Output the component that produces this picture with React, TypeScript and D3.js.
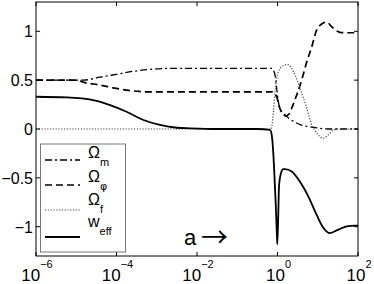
import React from "react";
import * as d3 from "d3";

// log10(a) positions and values
const omegaMLogA = [-6, -5, -4.83, -4.41, -4.0, -3.59, -3.17, -2.75, -2.26, -1, -0.2, -0.14, -0.06, -0.02, 0.02, 0.06, 0.15, 0.35, 0.6, 0.85, 1.0, 1.3, 1.6, 2.0];
const omegaM = [0.5, 0.5, 0.5, 0.53, 0.56, 0.59, 0.61, 0.62, 0.62, 0.62, 0.62, 0.62, 0.55, 0.415, 0.28, 0.21, 0.16, 0.09, 0.04, 0.02, 0.01, 0.0, 0.0, 0.0];

const omegaPhiLogA = [-6, -5, -4.83, -4.41, -4.0, -3.59, -3.17, -2.5, -1, -0.2, -0.14, -0.02, 0.06, 0.12, 0.2, 0.28, 0.35, 0.435, 0.48, 0.6, 0.73, 0.85, 0.97, 1.14, 1.22, 1.35, 1.55, 1.75, 2.0];
const omegaPhi = [0.5, 0.5, 0.48, 0.45, 0.415, 0.39, 0.38, 0.38, 0.38, 0.38, 0.38, 0.33, 0.21, 0.16, 0.135, 0.15, 0.21, 0.3, 0.35, 0.5, 0.69, 0.84, 1.01, 1.085, 1.095, 1.045, 0.99, 0.985, 0.985];

const omegaFLogA = [-6, -0.5, -0.17, -0.14, -0.1, -0.06, 0.02, 0.15, 0.26, 0.4, 0.56, 0.73, 0.85, 0.92, 1.01, 1.14, 1.26, 1.39, 1.51, 2.0];
const omegaF = [0, 0, 0, 0.03, 0.18, 0.38, 0.585, 0.65, 0.66, 0.585, 0.415, 0.21, 0.04, -0.01, -0.06, -0.095, -0.06, -0.01, 0, 0];

const wEffLogA = [-6, -5.24, -4.58, -4.16, -3.75, -3.33, -2.92, -2.5, -2.17, -1.5, -0.5, -0.186, -0.144, -0.104, -0.079, -0.045, -0.02, -0.005, 0.02, 0.037, 0.087, 0.144, 0.186, 0.353, 0.559, 0.765, 0.974, 1.138, 1.304, 1.511, 1.719, 1.925, 2.0];
const wEff = [0.33, 0.323, 0.296, 0.245, 0.177, 0.092, 0.041, 0.013, 0.007, 0.0, 0.0, -0.01, -0.06, -0.25, -0.45, -0.76, -1.03, -1.18, -0.86, -0.59, -0.45, -0.41, -0.41, -0.435, -0.54, -0.69, -0.88, -1.01, -1.065, -1.03, -0.997, -0.99, -0.99];

const xTickExps = [-6, -4, -2, 0, 2];
const yTicks = [-1, -0.5, 0, 0.5, 1];
const yTickLabels = ["−1", "−0.5", "0", "0.5", "1"];

const legendMain = ["Ω", "Ω", "Ω", "w"];
const legendSub = ["m", "φ", "f", "eff"];

export default function App() {
  const L = 36, R = 358, T = 2, B = 256;
  const x = d3.scaleLog().domain([1e-6, 1e2]).range([L, R]);
  const y = d3.scaleLinear().domain([-1.3, 1.3]).range([B, T]);

  const mk = (la: number[], v: number[]) =>
    d3.line<number>().x((_, i) => x(Math.pow(10, la[i]))).y((d) => y(d)).curve(d3.curveMonotoneX)(v) || "";

  const styles = [
    { d: mk(omegaMLogA, omegaM), stroke: "#000", w: 1.3, dash: "7,3,2,3" },
    { d: mk(omegaPhiLogA, omegaPhi), stroke: "#000", w: 1.7, dash: "7,4" },
    { d: mk(omegaFLogA, omegaF), stroke: "#444", w: 1.2, dash: "1.2,1.6" },
    { d: mk(wEffLogA, wEff), stroke: "#000", w: 1.8, dash: undefined as string | undefined },
  ];

  const sampleY = [160, 185, 210, 237];
  const textY = [158, 181.5, 205, 227];
  const font = "'Liberation Sans', Arial, Helvetica, sans-serif";

  return (
    <svg width={374} height={284} style={{ position: "absolute", left: 0, top: 0, background: "#fff" }} fontFamily={font}>
      <defs>
        <clipPath id="plot">
          <rect x={L} y={T} width={R - L} height={B - T} />
        </clipPath>
      </defs>
      <rect x={0} y={0} width={374} height={284} fill="#fff" />
      <g clipPath="url(#plot)">
        {styles.map((s, i) => (
          <path key={i} d={s.d} fill="none" stroke={s.stroke} strokeWidth={s.w} strokeDasharray={s.dash} />
        ))}
      </g>
      {/* frame */}
      <rect x={L} y={T} width={R - L} height={B - T} fill="none" stroke="#000" strokeWidth={1} />
      {/* ticks */}
      {xTickExps.map((e) => {
        const xx = x(Math.pow(10, e));
        return (
          <g key={e}>
            <line x1={xx} x2={xx} y1={B} y2={B - 4} stroke="#000" />
            <line x1={xx} x2={xx} y1={T} y2={T + 4} stroke="#000" />
            <text x={xx + 1} y={281} textAnchor="middle" fontSize={17}>
              10<tspan dy={-13} fontSize={11}>{e < 0 ? "−" + -e : String(e)}</tspan>
            </text>
          </g>
        );
      })}
      {yTicks.map((t, i) => {
        const yy = y(t);
        return (
          <g key={t}>
            <line x1={L} x2={L + 4} y1={yy} y2={yy} stroke="#000" />
            <line x1={R} x2={R - 4} y1={yy} y2={yy} stroke="#000" />
            <text x={33} y={yy + 6} textAnchor="end" fontSize={16}>
              {yTickLabels[i]}
            </text>
          </g>
        );
      })}
      {/* legend */}
      <rect x={40.5} y={144} width={85} height={108} fill="#fff" stroke="#777" strokeWidth={1} />
      {styles.map((s, i) => (
        <g key={i}>
          <line x1={45} x2={80} y1={sampleY[i]} y2={sampleY[i]} stroke={s.stroke} strokeWidth={s.w} strokeDasharray={s.dash} />
          <text x={88} y={textY[i]} fontSize={16}>
            {legendMain[i]}
            <tspan dy={8} fontSize={11} fontFamily={i === 1 ? "'DejaVu Sans', sans-serif" : undefined}>{legendSub[i]}</tspan>
          </text>
        </g>
      ))}
      <text x={184} y={245} fontSize={22}>a</text>
      <text x={201} y={247} fontSize={27} fontFamily="'Noto Sans CJK SC', sans-serif">→</text>
    </svg>
  );
}
